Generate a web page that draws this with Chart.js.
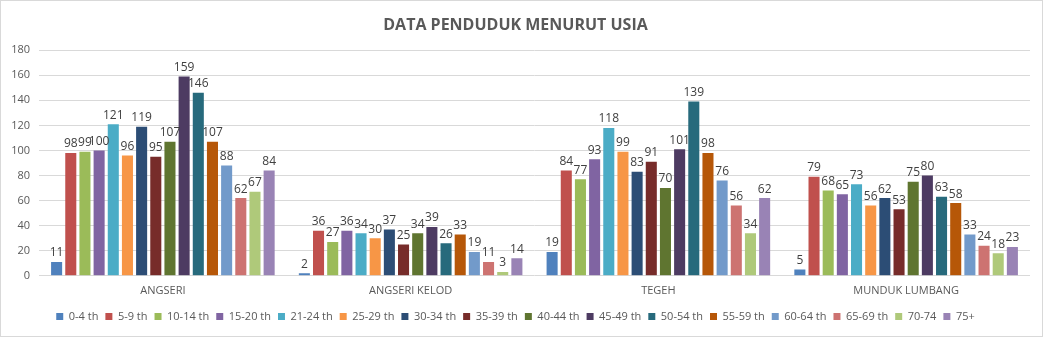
<!DOCTYPE html>
<html>
<head>
<meta charset="utf-8">
<script src="https://cdn.jsdelivr.net/npm/chart.js@4.4.1/dist/chart.umd.min.js"></script>
<style>
  html, body { margin: 0; padding: 0; background: #fff; }
  #wrap { position: relative; width: 1041px; height: 335px; border: 1px solid #d9d9d9; }
  canvas { display: block; }
</style>
</head>
<body>
<div id="wrap"><canvas id="c" width="1041" height="335"></canvas></div>
<script>
const categories = ['ANGSERI', 'ANGSERI KELOD', 'TEGEH', 'MUNDUK LUMBANG'];
const ageGroups = ['0-4 th', '5-9 th', '10-14 th', '15-20 th', '21-24 th', '25-29 th', '30-34 th', '35-39 th',
                   '40-44 th', '45-49 th', '50-54 th', '55-59 th', '60-64 th', '65-69 th', '70-74', '75+'];
// population per age group, one row per village (same order as categories)
const angseri       = [11, 98, 99, 100, 121, 96, 119, 95, 107, 159, 146, 107, 88, 62, 67, 84];
const angseriKelod  = [2, 36, 27, 36, 34, 30, 37, 25, 34, 39, 26, 33, 19, 11, 3, 14];
const tegeh         = [19, 84, 77, 93, 118, 99, 83, 91, 70, 101, 139, 98, 76, 56, 34, 62];
const mundukLumbang = [5, 79, 68, 65, 73, 56, 62, 53, 75, 80, 63, 58, 33, 24, 18, 23];
const yTicks = [0, 20, 40, 60, 80, 100, 120, 140, 160, 180];

const palette = ['#4F81BD', '#C0504D', '#9BBB59', '#8064A2', '#4BACC6', '#F79646', '#2C4D75', '#772C2A',
                 '#5F7530', '#4D3B62', '#276A7C', '#B65708', '#729ACA', '#CD7371', '#AFC97A', '#9983B5'];

const rows = [angseri, angseriKelod, tegeh, mundukLumbang];
const datasets = ageGroups.map((label, i) => ({
  label,
  data: rows.map(r => r[i]),
  backgroundColor: palette[i],
  borderWidth: 0,
  categoryPercentage: 0.915,
  barPercentage: 0.78
}));

const FONT = "'Open Sans', 'Liberation Sans', sans-serif";

// value labels above each bar
const valueLabels = {
  id: 'valueLabels',
  afterDatasetsDraw(chart) {
    const ctx = chart.ctx;
    ctx.save();
    ctx.font = '12px ' + FONT;
    ctx.fillStyle = '#404040';
    ctx.textAlign = 'center';
    ctx.textBaseline = 'bottom';
    chart.data.datasets.forEach((ds, di) => {
      chart.getDatasetMeta(di).data.forEach((bar, j) => {
        ctx.fillText(String(ds.data[j]), bar.x, bar.y - 3);
      });
    });
    ctx.restore();
  }
};

new Chart(document.getElementById('c'), {
  type: 'bar',
  data: { labels: categories, datasets },
  plugins: [valueLabels],
  options: {
    responsive: false,
    animation: false,
    layout: { padding: { left: 0, right: 12, top: 0, bottom: 4 } },
    plugins: {
      title: {
        display: true,
        text: 'DATA PENDUDUK MENURUT USIA',
        color: '#595959',
        font: { family: FONT, size: 16, weight: 'bold' },
        padding: { top: 15, bottom: 15 }
      },
      legend: {
        position: 'bottom',
        labels: {
          boxWidth: 7, boxHeight: 7,
          color: '#595959',
          font: { family: FONT, size: 11 },
          padding: 7
        }
      },
      tooltip: { enabled: false }
    },
    scales: {
      x: {
        grid: { display: false },
        border: { display: false },
        afterFit(scale) { scale.height += 7; },
        ticks: { color: '#595959', font: { family: FONT, size: 11 }, padding: 0 }
      },
      y: {
        min: 0, max: 180,
        afterBuildTicks(scale) { scale.ticks = yTicks.map(v => ({ value: v })); },
        afterFit(scale) { scale.width = 38; },
        grid: { color: '#d9d9d9', drawTicks: false },
        border: { display: false },
        ticks: { color: '#595959', font: { family: FONT, size: 11 }, padding: 9 }
      }
    }
  }
});
</script>
</body>
</html>
